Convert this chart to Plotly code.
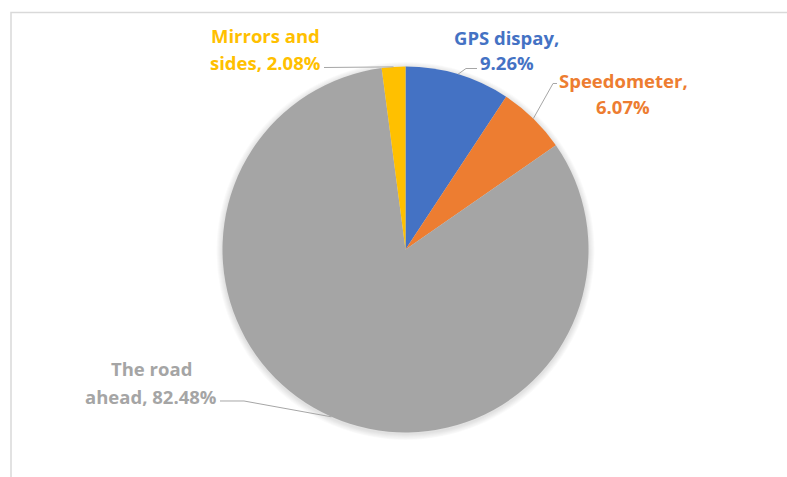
import math
import plotly.graph_objects as go

# Share of driver glance time by location
categories = ["GPS dispay", "Speedometer", "The road ahead", "Mirrors and sides"]
shares = [9.26, 6.07, 82.48, 2.08]
colors = ["#4472C4", "#ED7D31", "#A5A5A5", "#FFC000"]

# Label text split into lines, as shown beside each slice
label_lines = [
    ["GPS dispay,", "9.26%"],
    ["Speedometer,", "6.07%"],
    ["The road", "ahead, 82.48%"],
    ["Mirrors and", "sides, 2.08%"],
]

W, H = 787, 477
CX, CY, R = 405.5, 249.5, 183.0  # pie centre / radius in px

def px(x, y):
    return x / W, 1 - y / H

fig = go.Figure()
fig.add_trace(go.Pie(
    labels=categories,
    values=shares,
    marker=dict(colors=colors, line=dict(width=0)),
    sort=False,
    direction="clockwise",
    rotation=0,
    textinfo="none",
    hoverinfo="label+percent",
    showlegend=False,
    domain=dict(x=[(CX - R) / W, (CX + R) / W], y=[1 - (CY + R) / H, 1 - (CY - R) / H]),
))

# Mid-angle edge point of each slice, used as the leader line target
total = sum(shares)
edge_pts = []
acc = 0.0
for v in shares:
    mid = (acc + v / 2) / total * 2 * math.pi
    acc += v
    edge_pts.append((CX + R * math.sin(mid), CY - R * math.cos(mid)))

# Label placement (line centres, px) and leader-line start points
label_pos = [
    (507, [37, 63]),
    (623, [80, 106]),
    (151, [368, 396]),
    (265, [36, 63]),
]
leader_start = [
    [(477, 68.5), (466, 68.5)],
    [(557, 83.5), (553, 83.5)],
    [(220, 401), (244, 401)],
    [(324, 67.5)],
]

annotations = []
for (cx, ys), lines, col in zip(label_pos, label_lines, colors):
    for y, t in zip(ys, lines):
        ax_, ay_ = px(cx, y)
        annotations.append(dict(
            x=ax_, y=ay_, xref="paper", yref="paper", text=t, showarrow=False,
            xanchor="center", yanchor="middle",
            font=dict(family="Open Sans", size=18.5, color=col, weight="bold"),
        ))

shapes = []
# soft shadow ring around the pie
for i in range(1, 7):
    r = R + i
    x0, y0 = px(CX - r, CY + r + 1.5)
    x1, y1 = px(CX + r, CY - r + 1.5)
    shapes.append(dict(type="circle", xref="paper", yref="paper", layer="below",
                       x0=x0, y0=y0, x1=x1, y1=y1,
                       fillcolor="rgba(0,0,0,0.018)", line=dict(width=0)))

for pts, end in zip(leader_start, edge_pts):
    path_pts = pts + [end]
    d = "M " + " L ".join(f"{px(x, y)[0]:.5f},{px(x, y)[1]:.5f}" for x, y in path_pts)
    shapes.append(dict(type="path", path=d, xref="paper", yref="paper",
                       line=dict(color="#A6A6A6", width=1)))

# Chart area frame (top and left edges)
fx0, fy0 = px(11, H)
fx1, fy1 = px(11, 12.5)
shapes.append(dict(type="path", xref="paper", yref="paper",
                   path=f"M {fx0},{fy0} L {fx1},{fy1} L 1,{fy1}",
                   line=dict(color="#D9D9D9", width=1.5)))

fig.update_layout(
    width=W, height=H,
    margin=dict(l=0, r=0, t=0, b=0),
    paper_bgcolor="white",
    plot_bgcolor="white",
    annotations=annotations,
    shapes=shapes,
)

fig.write_html("out.html")
